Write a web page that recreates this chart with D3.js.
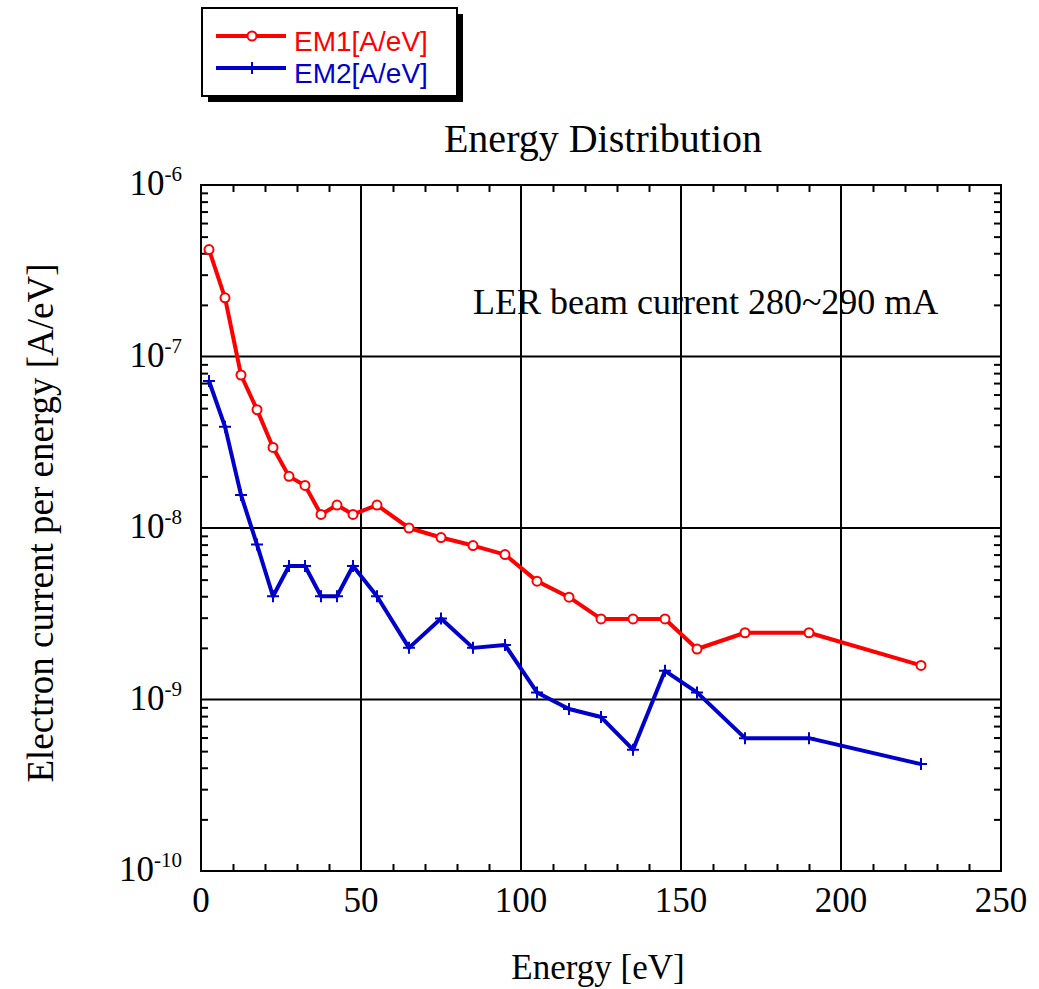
<!DOCTYPE html>
<html>
<head>
<meta charset="utf-8">
<script src="https://cdn.jsdelivr.net/npm/d3@7"></script>
<style>
  body { margin: 0; background: #fff; }
  text { font-family: "Liberation Serif", "Times New Roman", serif; fill: #000; }
</style>
</head>
<body>
<div id="chart"></div>
<script>
// data
var energy = [2.5, 7.5, 12.5, 17.5, 22.5, 27.5, 32.5, 37.5, 42.5, 47.5, 55, 65, 75, 85, 95,
              105, 115, 125, 135, 145, 155, 170, 190, 225];
var em1 = [4.2e-7, 2.2e-7, 7.8e-8, 4.9e-8, 2.95e-8, 2.0e-8, 1.77e-8, 1.2e-8, 1.36e-8, 1.2e-8, 1.36e-8,
           1.0e-8, 8.8e-9, 7.9e-9, 7.0e-9, 4.9e-9, 3.95e-9, 2.95e-9, 2.95e-9, 2.95e-9, 1.97e-9,
           2.45e-9, 2.45e-9, 1.58e-9];
var em2 = [7.2e-8, 3.9e-8, 1.56e-8, 8.0e-9, 4.0e-9, 6.0e-9, 6.0e-9, 4.0e-9, 4.0e-9, 6.0e-9, 4.0e-9,
           2.0e-9, 2.97e-9, 2.0e-9, 2.08e-9, 1.1e-9, 8.8e-10, 7.9e-10, 5.1e-10, 1.47e-9, 1.1e-9,
           5.95e-10, 5.95e-10, 4.2e-10];
var seriesNames = ["EM1[A/eV]", "EM2[A/eV]"];
var xTicks = [0, 50, 100, 150, 200, 250];
var yExponents = [-6, -7, -8, -9, -10];

var W = 1039, H = 989;
var margin = {top: 185, left: 201},
    width = 800,
    height = 686;

var svg = d3.select("#chart").append("svg")
    .attr("width", W)
    .attr("height", H);

var g = svg.append("g")
    .attr("transform", "translate(" + margin.left + "," + margin.top + ")");

var x = d3.scaleLinear().domain([0, 250]).range([0, width]);
var y = d3.scaleLog().domain([1e-10, 1e-6]).range([height, 0]);

// grid
var xGrid = xTicks.filter(function(d) { return d > 0 && d < 250; });
var yGrid = yExponents.map(function(e) { return Math.pow(10, e); })
    .filter(function(d) { return d > 1e-10 && d < 1e-6; });

g.selectAll(".vgrid").data(xGrid).enter().append("line")
    .attr("x1", function(d) { return x(d); })
    .attr("x2", function(d) { return x(d); })
    .attr("y1", 0).attr("y2", height)
    .attr("stroke", "#000").attr("stroke-width", 2);

g.selectAll(".hgrid").data(yGrid).enter().append("line")
    .attr("y1", function(d) { return y(d); })
    .attr("y2", function(d) { return y(d); })
    .attr("x1", 0).attr("x2", width)
    .attr("stroke", "#000").attr("stroke-width", 2);

// minor ticks, pointing inward on all four sides
var xMinor = d3.range(10, 250, 10).filter(function(d) { return d % 50 != 0; });
var yMinor = [];
[-10, -9, -8, -7].forEach(function(e) {
  for (var m = 2; m <= 9; m++) yMinor.push(m * Math.pow(10, e));
});

function tickStyle(sel) {
  sel.select(".domain").remove();
  sel.selectAll("line").attr("stroke", "#000").attr("stroke-width", 2);
}

g.append("g").attr("transform", "translate(0," + height + ")")
    .call(d3.axisBottom(x).tickValues(xMinor).tickSize(-7).tickFormat(""))
    .call(tickStyle);
g.append("g")
    .call(d3.axisTop(x).tickValues(xMinor).tickSize(-7).tickFormat(""))
    .call(tickStyle);
g.append("g")
    .call(d3.axisLeft(y).tickValues(yMinor).tickSize(-7).tickFormat(""))
    .call(tickStyle);
g.append("g").attr("transform", "translate(" + width + ",0)")
    .call(d3.axisRight(y).tickValues(yMinor).tickSize(-7).tickFormat(""))
    .call(tickStyle);

// frame
g.append("rect")
    .attr("width", width).attr("height", height)
    .attr("fill", "none").attr("stroke", "#000").attr("stroke-width", 2);

// x tick labels
g.selectAll(".xlab").data(xTicks).enter().append("text")
    .attr("x", function(d) { return x(d); })
    .attr("y", height + 41)
    .attr("text-anchor", "middle")
    .style("font-size", "35px")
    .text(function(d) { return d; });

// y tick labels 10^n
var ylab = g.selectAll(".ylab").data(yExponents).enter().append("text")
    .attr("x", -19)
    .attr("y", function(e) { return y(Math.pow(10, e)) + 10; })
    .attr("text-anchor", "end")
    .style("font-size", "35px");
ylab.append("tspan").text("10");
ylab.append("tspan")
    .attr("dy", -14)
    .style("font-size", "21px")
    .text(function(e) { return e; });

// series
var line = d3.line()
    .x(function(d) { return x(d[0]); })
    .y(function(d) { return y(d[1]); });

var red = "#ff0000", blue = "#0000cc";
var pts1 = energy.map(function(e, i) { return [e, em1[i]]; });
var pts2 = energy.map(function(e, i) { return [e, em2[i]]; });

g.append("path").datum(pts1)
    .attr("d", line).attr("fill", "none")
    .attr("stroke", red).attr("stroke-width", 4).attr("stroke-linejoin", "round");
g.selectAll(".m1").data(pts1).enter().append("circle")
    .attr("cx", function(d) { return x(d[0]); })
    .attr("cy", function(d) { return y(d[1]); })
    .attr("r", 4.5)
    .attr("fill", "#fff").attr("stroke", red).attr("stroke-width", 2);

g.append("path").datum(pts2)
    .attr("d", line).attr("fill", "none")
    .attr("stroke", blue).attr("stroke-width", 4).attr("stroke-linejoin", "round");
g.selectAll(".m2").data(pts2).enter().append("path")
    .attr("transform", function(d) { return "translate(" + x(d[0]) + "," + y(d[1]) + ")"; })
    .attr("d", "M-6,0H6M0,-6V6")
    .attr("stroke", blue).attr("stroke-width", 2);

// annotation
svg.append("text")
    .attr("x", 473).attr("y", 314)
    .style("font-size", "36px")
    .text("LER beam current 280~290 mA");

// title and axis titles
svg.append("text")
    .attr("x", 603).attr("y", 152)
    .attr("text-anchor", "middle")
    .style("font-size", "40px")
    .text("Energy Distribution");

svg.append("text")
    .attr("x", 598).attr("y", 979)
    .attr("text-anchor", "middle")
    .style("font-size", "35px")
    .text("Energy [eV]");

svg.append("text")
    .attr("transform", "translate(53,523) rotate(-90)")
    .attr("text-anchor", "middle")
    .style("font-size", "37px")
    .text("Electron current per energy [A/eV]");

// legend
var leg = svg.append("g");
leg.append("rect").attr("x", 208).attr("y", 14).attr("width", 255).attr("height", 88).attr("fill", "#000");
leg.append("rect").attr("x", 202).attr("y", 8).attr("width", 255).attr("height", 88)
    .attr("fill", "#fff").attr("stroke", "#000").attr("stroke-width", 2);

var legItems = leg.selectAll(".li").data(seriesNames).enter().append("g")
    .attr("transform", function(d, i) { return "translate(0," + (36 + i * 32) + ")"; });
legItems.append("line")
    .attr("x1", 216).attr("x2", 286)
    .attr("stroke", function(d, i) { return i == 0 ? red : blue; })
    .attr("stroke-width", 4);
legItems.filter(function(d, i) { return i == 0; }).append("circle")
    .attr("cx", 252).attr("r", 4.5)
    .attr("fill", "#fff").attr("stroke", red).attr("stroke-width", 2);
legItems.filter(function(d, i) { return i == 1; }).append("path")
    .attr("d", "M252,-6V6")
    .attr("stroke", blue).attr("stroke-width", 2);
legItems.append("text")
    .attr("x", 294).attr("y", 15)
    .style("font-family", "'Liberation Sans', Arial, sans-serif")
    .style("font-size", "28px")
    .style("fill", function(d, i) { return i == 0 ? red : blue; })
    .text(function(d) { return d; });
</script>
</body>
</html>
